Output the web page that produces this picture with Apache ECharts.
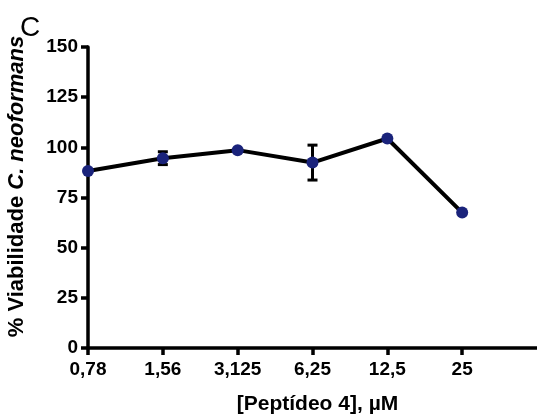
<!DOCTYPE html>
<html>
<head>
<meta charset="utf-8">
<script src="https://cdn.jsdelivr.net/npm/echarts@6/dist/echarts.min.js"></script>
<style>
  html, body { margin: 0; padding: 0; background: #fff; }
  #main { width: 537px; height: 419px; }
</style>
</head>
<body>
<div id="main"></div>
<script>
// concentrações do peptídeo (eixo x, categorias)
const doses = ['0,78', '1,56', '3,125', '6,25', '12,5', '25']
// % viabilidade média
const viabilidade = [88.2, 94.6, 98.6, 92.4, 104.4, 67.5]
// erro (±)
const erro = [0, 3.2, 0, 8.7, 0, 0]
const yTicks = [0, 25, 50, 75, 100, 125, 150]

const chart = echarts.init(document.getElementById('main'))
const font = 'Liberation Sans, Arial, sans-serif'

const pontos = viabilidade.map((v, i) => [i, v])
const barras = viabilidade.map((v, i) => [i, v - erro[i], v + erro[i]]).filter((d, i) => erro[i] > 0)

const option = {
  animation: false,
  title: {
    text: 'C',
    left: 15,
    top: 9,
    textStyle: { fontFamily: font, fontSize: 28, fontWeight: 'normal', color: '#000' }
  },
  grid: { left: 88, right: 0, top: 47, bottom: 71, outerBoundsMode: 'none' },
  xAxis: {
    type: 'value',
    min: 0,
    max: 6,
    interval: 1,
    splitLine: { show: false },
    axisLine: { lineStyle: { color: '#000', width: 3.5 } },
    axisTick: { show: true, length: 7, lineStyle: { color: '#000', width: 3.5 }, customValues: [0, 1, 2, 3, 4, 5] },
    axisLabel: {
      customValues: [0, 1, 2, 3, 4, 5],
      formatter: v => doses[v],
      margin: 12,
      color: '#000',
      fontFamily: font,
      fontSize: 19,
      fontWeight: 'bold'
    },
    name: '[Peptídeo 4], µM',
    nameLocation: 'middle',
    nameGap: 46,
    nameTextStyle: { color: '#000', fontFamily: font, fontSize: 21, fontWeight: 'bold', padding: [0, 0, 0, 10] }
  },
  yAxis: {
    type: 'value',
    min: 0,
    max: 150,
    interval: 25,
    splitLine: { show: false },
    axisLine: { show: true, lineStyle: { color: '#000', width: 3.5 } },
    axisTick: { show: true, length: 7, lineStyle: { color: '#000', width: 3.5 } },
    axisLabel: {
      formatter: v => yTicks.includes(v) ? String(v) : '',
      margin: 10,
      color: '#000',
      fontFamily: font,
      fontSize: 19,
      fontWeight: 'bold'
    },
    name: '{s|}{n|% Viabilidade }{i|C. neoformans}',
    nameLocation: 'middle',
    nameGap: 60,
    nameTextStyle: {
      rich: {
        s: { width: 22 },
        n: { color: '#000', fontFamily: font, fontSize: 22, fontWeight: 'bold' },
        i: { color: '#000', fontFamily: font, fontSize: 22, fontWeight: 'bold', fontStyle: 'italic' }
      }
    }
  },
  series: [
    {
      type: 'custom',
      z: 3,
      data: barras,
      renderItem: (params, api) => {
        const x = api.value(0)
        const lo = api.coord([x, api.value(1)])
        const hi = api.coord([x, api.value(2)])
        const w = 5
        const st = { stroke: '#000', lineWidth: 3 }
        return {
          type: 'group',
          children: [
            { type: 'line', shape: { x1: lo[0], y1: lo[1], x2: hi[0], y2: hi[1] }, style: st },
            { type: 'line', shape: { x1: lo[0] - w, y1: lo[1], x2: lo[0] + w, y2: lo[1] }, style: st },
            { type: 'line', shape: { x1: hi[0] - w, y1: hi[1], x2: hi[0] + w, y2: hi[1] }, style: st }
          ]
        }
      }
    },
    {
      type: 'line',
      z: 4,
      data: pontos,
      symbol: 'circle',
      symbolSize: 12,
      lineStyle: { color: '#000', width: 4 },
      itemStyle: { color: '#1a237b', borderWidth: 0 }
    }
  ]
}

chart.setOption(option)
</script>
</body>
</html>
